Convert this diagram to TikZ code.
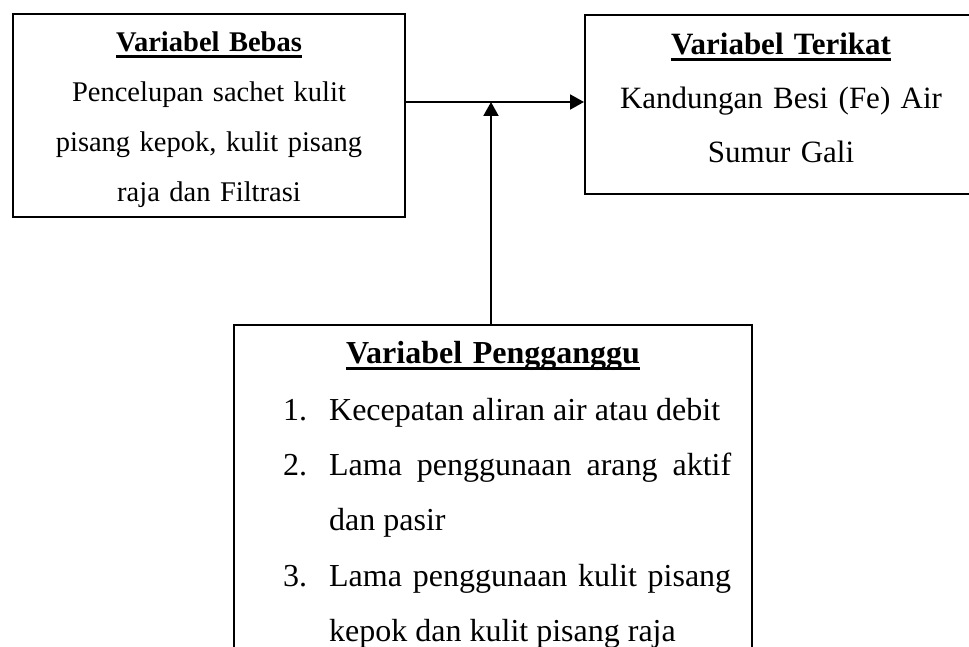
\documentclass[tikz,border=0pt]{standalone}
\usepackage{fontspec}
\setmainfont{Liberation Serif}
\usepackage{tikz}
\usetikzlibrary{arrows.meta, positioning, calc}

\hyphenpenalty=10000
\exhyphenpenalty=10000
\tolerance=9999
\emergencystretch=20pt

% judul tebal bergaris bawah
\newcommand{\judul}[1]{\sbox0{\textbf{#1}}\rlap{\rule[-0.2em]{\wd0}{0.1em}}\usebox0}
% butir daftar dengan indentasi gantung
\newcommand{\butir}[2]{\hangindent=46pt\hangafter=1\noindent\makebox[46pt][l]{#1}#2\par}

\begin{document}
\begin{tikzpicture}[
    x=1pt, y=1pt,
    kotak/.style={
        rectangle,
        draw,
        line width=2pt,
        inner sep=0pt,
        anchor=north west
    },
    isikiri/.style={
        text width=380pt,
        align=center,
        anchor=base,
        inner sep=0pt,
        font={\fontsize{28.5}{50}\selectfont}
    },
    isikanan/.style={
        text width=380pt,
        align=center,
        anchor=base,
        inner sep=0pt,
        font={\fontsize{31}{54}\selectfont}
    },
    isibawah/.style={
        text width=448pt,
        align=justify,
        anchor=base west,
        inner sep=0pt,
        font={\fontsize{32}{55.5}\selectfont}
    },
    panah/.style={-{Triangle[length=14pt,width=15pt]}, line width=2pt}
]
    \useasboundingbox (0,0) rectangle (969,646);
    \clip (0,0) rectangle (969,646);

    % Kotak-kotak variabel
    \node [kotak, minimum width=392pt, minimum height=203pt] (bebas) at (12,633) {};
    \node [kotak, minimum width=392pt, minimum height=179pt] (terikat) at (584,632) {};
    \node [kotak, minimum width=518pt, minimum height=400pt] (pengganggu) at (233,322) {};

    % Isi kotak
    \node [isikiri] (bebasisi) at ($(bebas.north)+(0,-39)$)
        {\judul{Variabel Bebas}\\Pencelupan sachet kulit\\pisang kepok, kulit pisang\\raja dan Filtrasi};

    \node [isikanan] (terikatisi) at ($(terikat.north)+(0,-41)$)
        {\judul{Variabel Terikat}\\Kandungan Besi (Fe) Air\\Sumur Gali};

    \node [isikanan, font={\fontsize{32}{55.5}\selectfont}] (pengganggujudul) at ($(pengganggu.north)+(0,-40)$)
        {\judul{Variabel Pengganggu}};

    \node [isibawah] (pengganggudaftar) at ($(pengganggu.north west)+(50,-96)$)
        {\butir{1.}{Kecepatan aliran air atau debit}
         \butir{2.}{Lama penggunaan arang aktif\linebreak dan pasir}
         \butir{3.}{Lama penggunaan kulit pisang\linebreak kepok dan kulit pisang raja}};

    % Panah pengaruh
    \coordinate (cabang) at (491,544);
    \draw [panah] (bebas.east |- cabang) -- (terikat.west |- cabang);
    \draw [panah] (pengganggu.north -| cabang) -- (cabang);

\end{tikzpicture}
\end{document}
